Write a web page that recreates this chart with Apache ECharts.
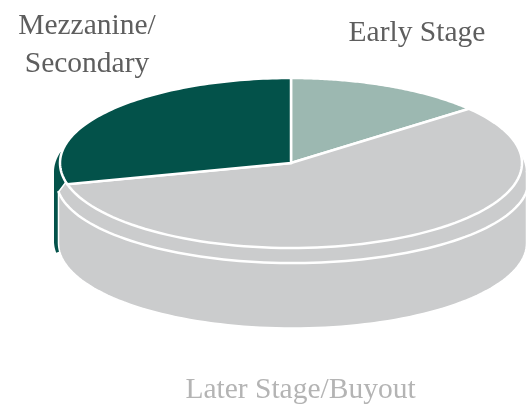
<!DOCTYPE html>
<html>
<head>
<meta charset="utf-8">
<style>
    html, body {margin:0;padding:0;background:#ffffff;}
    #main {width:526px;height:406px;}
</style>
<script src="https://cdn.jsdelivr.net/npm/echarts@6/dist/echarts.min.js"></script>
</head>
<body>
<div id="main"></div>
<script>
    var categories = ['Early Stage', 'Later Stage/Buyout', 'Mezzanine/\nSecondary'];
    var shares = [14, 57, 29];

    var colors = ['#9cb8b1', '#cbcccd', '#03524a'];
    var textColors = ['#5e5e5e', '#b4b4b4', '#5e5e5e'];
    var labelAt = [[417, 33], [300.5, 390], [87, 45]];

    var total = shares.reduce(function (a, b) { return a + b; }, 0);

    // flattened pie, angle is clockwise from 12 o'clock
    var face = {x: 291, y: 163, rx: 231, ry: 85};

    function arc(e, from, to) {
        var pts = [], n = 90;
        for (var i = 0; i <= n; i++) {
            var a = (from + (to - from) * i / n) * Math.PI / 180;
            pts.push([e.x + e.rx * Math.sin(a), e.y - e.ry * Math.cos(a)]);
        }
        return pts;
    }

    function laterBody() {
        var lip = {x: 292.5, y: 172, rx: 234, ry: 85};
        var base = {x: 292.5, y: 243, rx: 234, ry: 85};
        var pts = arc(lip, 76.5, 90).concat(arc(base, 90, 270));
        pts.push([58.5, 192], [66, 182], [face.x, face.y]);
        return {type: 'polygon', z2: 2, shape: {points: pts},
            style: {fill: colors[1], stroke: '#ffffff', lineWidth: 1.5}};
    }

    function laterRing() {
        var ring = {x: 292.5, y: 181, rx: 236, ry: 82};
        return {type: 'polyline', z2: 3, shape: {points: arc(ring, 83, 263)},
            style: {fill: null, stroke: '#ffffff', lineWidth: 2.5}};
    }

    function mezzanineSide() {
        var lip = {x: 286, y: 172, rx: 232, ry: 85};
        var base = {x: 286, y: 241, rx: 232, ry: 85};
        var pts = arc(base, 262, 270).concat(arc(lip, 270, 283.6));
        pts.push([face.x, face.y]);
        return {type: 'polygon', z2: 1, shape: {points: pts},
            style: {fill: colors[2]}};
    }

    function renderSlice(params, api) {
        var i = params.dataIndex;
        var start = 0;
        for (var k = 0; k < i; k++) start += shares[k];
        var from = start / total * 360;
        var to = (start + api.value(0)) / total * 360;

        var pts = arc(face, from, to);
        pts.push([face.x, face.y]);

        var children = [{
            type: 'polygon', z2: 4, shape: {points: pts},
            style: {fill: colors[i], stroke: '#ffffff', lineWidth: 2.5, lineJoin: 'miter'}
        }, {
            type: 'text', z2: 5, x: labelAt[i][0], y: labelAt[i][1],
            style: {
                text: categories[i], fill: textColors[i], align: 'center', verticalAlign: 'middle',
                font: '29.5px "Liberation Serif"', lineHeight: 38
            }
        }];
        if (i === 1) children.push(laterBody(), laterRing());
        if (i === 2) children.push(mezzanineSide());
        return {type: 'group', children: children};
    }

    var chart = echarts.init(document.getElementById('main'), null, {renderer: 'canvas'});
    chart.setOption({
        animation: false,
        backgroundColor: '#ffffff',
        series: [{
            type: 'custom',
            coordinateSystem: 'none',
            clip: false,
            renderItem: renderSlice,
            data: shares.map(function (v, i) { return {name: categories[i], value: [v]}; })
        }]
    });
</script>
</body>
</html>
